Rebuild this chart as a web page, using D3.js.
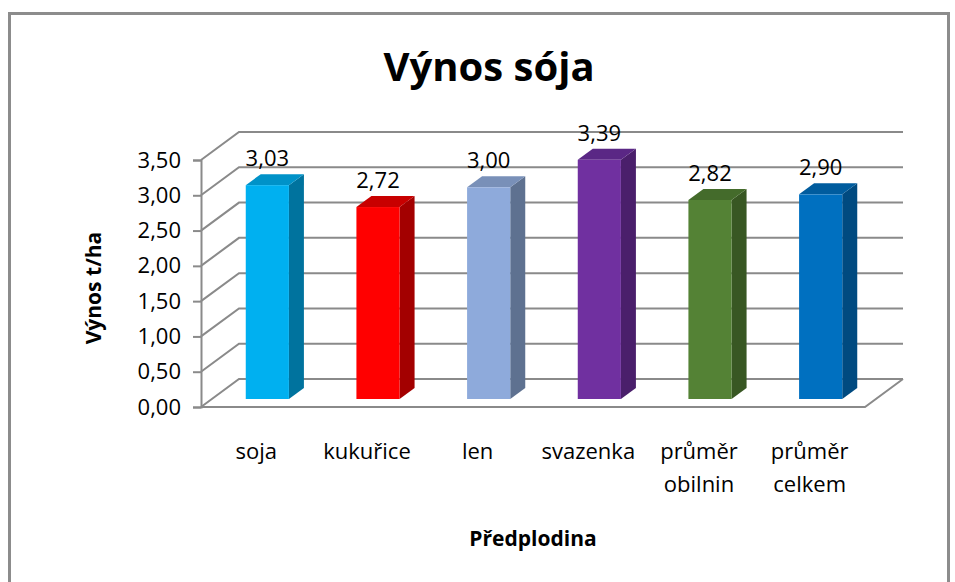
<!DOCTYPE html>
<html>
<head>
<meta charset="utf-8">
<script src="https://cdn.jsdelivr.net/npm/d3@7"></script>
<style>
  html, body { margin: 0; padding: 0; background: #fff; }
  svg { display: block; }
  text { font-family: "Open Sans", "Noto Sans", sans-serif; fill: #000; }
</style>
</head>
<body>
<svg id="chart" width="955" height="582"></svg>
<script>
// ---- data ----
const categories = ["soja", "kukuřice", "len", "svazenka", "průměr obilnin", "průměr celkem"];
const values = [3.03, 2.72, 3.00, 3.39, 2.82, 2.90];
const yTicks = [0, 0.5, 1, 1.5, 2, 2.5, 3, 3.5];
const title = "Výnos sója";
const yTitle = "Výnos t/ha";
const xTitle = "Předplodina";

// ---- styles ----
const frontColors = ["#00B0F0", "#FF0000", "#8EAADB", "#7030A0", "#548235", "#0070C0"];
const sideColors  = ["#00739E", "#A30000", "#5E7190", "#4A1F6B", "#385723", "#004A80"];
const topColors   = ["#0092C8", "#C80000", "#7990B8", "#5A2785", "#446B2B", "#005C9E"];

const svg = d3.select("#chart");

// frame
svg.append("rect").attr("x", 9.5).attr("y", 13.5).attr("width", 939).attr("height", 600)
  .attr("fill", "#fff").attr("stroke", "#8c8c8c").attr("stroke-width", 3);

// scales (front plane)
const x = d3.scaleBand().domain(categories).range([201, 865]).paddingInner(0).paddingOuter(0);
const y = d3.scaleLinear().domain([0, 3.5]).range([407, 160]);

const wall = { dx: 38, dy: -28 };   // back wall offset
const barF = { dx: 11, dy: -8 };    // bar front plane offset
const barD = { dx: 15, dy: -11 };   // bar depth
const gridColor = "#8a8a8a";
const fmt = v => d3.format(".2f")(v).replace(".", ",");
const pts = a => a.map(p => p.join(",")).join(" ");

// gridlines + side wall diagonals
const grid = svg.append("g").attr("fill", "none").attr("stroke", gridColor).attr("stroke-width", 2);
yTicks.forEach(t => {
  const yy = y(t);
  grid.append("polyline").attr("points", pts([
    [x.range()[0], yy], [x.range()[0] + wall.dx, yy + wall.dy], [x.range()[1] + wall.dx, yy + wall.dy]
  ]));
});
// floor front edge and right edge
grid.append("polyline").attr("points", pts([
  [x.range()[0], y(0)], [x.range()[1], y(0)], [x.range()[1] + wall.dx, y(0) + wall.dy]
]));

// y axis using d3 axis
const yAxis = d3.axisLeft(y).tickValues(yTicks).tickFormat(fmt).tickSize(8).tickPadding(12);
const ag = svg.append("g").attr("transform", `translate(${x.range()[0]},0)`).call(yAxis);
ag.select(".domain").attr("stroke", gridColor).attr("stroke-width", 2);
ag.selectAll(".tick line").attr("stroke", gridColor).attr("stroke-width", 2);
ag.selectAll(".tick text").attr("font-size", 22).attr("font-family", "'Open Sans', sans-serif").attr("fill", "#000");

// bars
const bw = x.bandwidth() * 0.39;
const bars = svg.append("g");
categories.forEach((c, i) => {
  const v = values[i];
  const left = x(c) + x.bandwidth() / 2 - bw / 2 + barF.dx;
  const right = left + bw;
  const top = y(v) + barF.dy;
  const bottom = y(0) + barF.dy;
  bars.append("polygon").attr("points", pts([[right, top], [right + barD.dx, top + barD.dy], [right + barD.dx, bottom + barD.dy], [right, bottom]]))
    .attr("fill", sideColors[i]);
  bars.append("polygon").attr("points", pts([[left, top], [left + barD.dx, top + barD.dy], [right + barD.dx, top + barD.dy], [right, top]]))
    .attr("fill", topColors[i]);
  bars.append("rect").attr("x", left).attr("y", top).attr("width", bw).attr("height", bottom - top)
    .attr("fill", frontColors[i]);
  bars.append("text").attr("x", left + bw / 2).attr("y", top + barD.dy - 8)
    .attr("text-anchor", "middle").attr("font-size", 22).text(fmt(v));
});

// category labels
categories.forEach(c => {
  const words = c.split(" ");
  const cx = x(c) + x.bandwidth() / 2;
  const t = svg.append("text").attr("text-anchor", "middle").attr("font-size", 22)
    .attr("x", cx).attr("y", 459);
  words.forEach((w, k) => {
    t.append("tspan").attr("x", cx).attr("dy", k === 0 ? 0 : 33).text(w);
  });
});

// titles
svg.append("text").attr("x", 489).attr("y", 81).attr("text-anchor", "middle")
  .attr("font-size", 40).attr("font-weight", "bold").text(title);
svg.append("text").attr("x", 533).attr("y", 546).attr("text-anchor", "middle")
  .attr("font-size", 21).attr("font-weight", "bold").text(xTitle);
svg.append("text").attr("transform", "translate(101,288) rotate(-90)").attr("text-anchor", "middle")
  .attr("font-size", 21).attr("font-weight", "bold").text(yTitle);
</script>
</body>
</html>
